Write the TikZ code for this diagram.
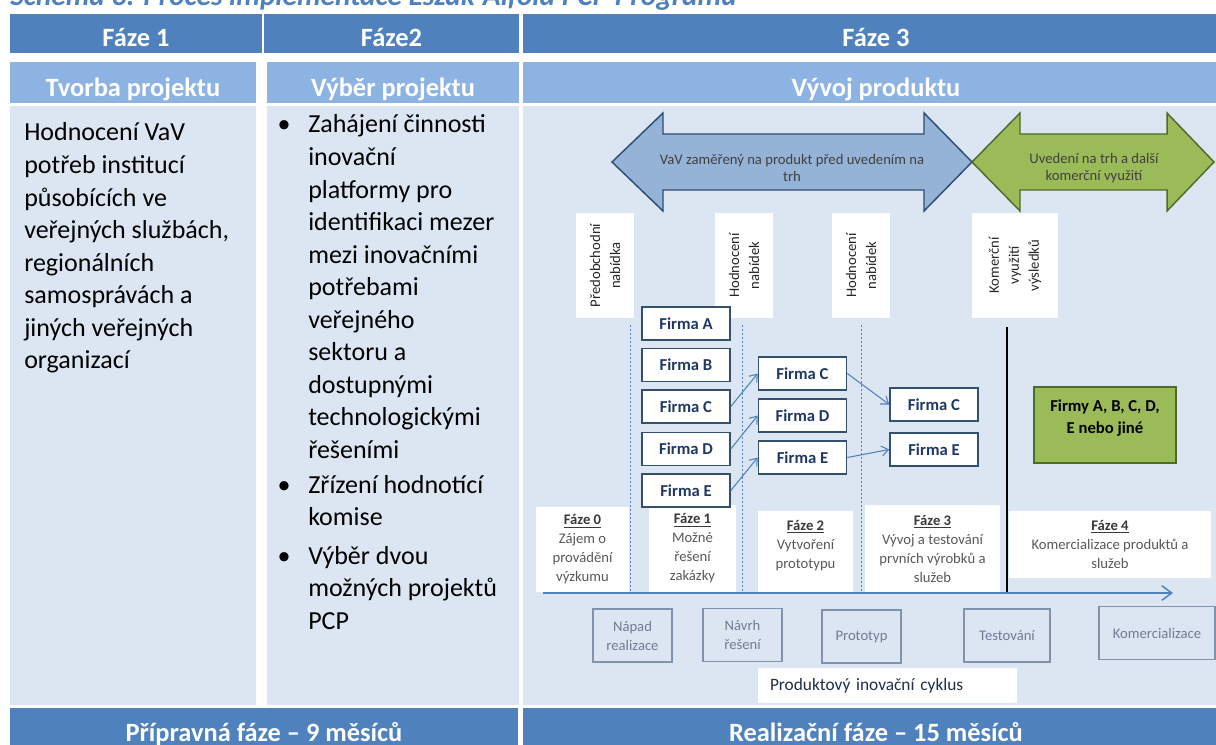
\documentclass[tikz,border=0pt]{standalone}
\usepackage{fontspec}
\setmainfont{Carlito}
\usetikzlibrary{arrows.meta}

\definecolor{headblue}{HTML}{4F81BD}
\definecolor{subblue}{HTML}{8DB3E2}
\definecolor{panel}{HTML}{DCE6F2}
\definecolor{arrowblue}{HTML}{95B3D7}
\definecolor{arrowedge}{HTML}{2C4D75}
\definecolor{arrowgreen}{HTML}{9BBB59}
\definecolor{greenedge}{HTML}{4E6B2A}
\definecolor{arrowtext}{HTML}{404040}
\definecolor{labeltext}{HTML}{262626}
\definecolor{navy}{HTML}{1F3864}
\definecolor{firmedge}{HTML}{34506F}
\definecolor{linkblue}{HTML}{4F81BD}
\definecolor{phasetext}{HTML}{595959}
\definecolor{phasehead}{HTML}{3A3A3A}
\definecolor{stageedge}{HTML}{8093AB}
\definecolor{stagetext}{HTML}{6D7D94}
\definecolor{cycletext}{HTML}{1F2F45}

\newcommand\phasehead[1]{\textcolor{phasehead}{\textbf{\underline{#1}}}}

\tikzset{
  headtext/.style={anchor=base, inner sep=0, text=white,
    font=\fontsize{19.8}{24}\selectfont\bfseries},
  bodytext/.style={anchor=base west, inner sep=0,
    font=\fontsize{19.5}{24.4}\selectfont},
  bulletmark/.style={anchor=base, inner sep=0,
    font=\fontsize{19.5}{24.4}\selectfont},
  bigarrow/.style={line width=1.1pt, line join=miter},
  arrowlabel/.style={align=center, inner sep=0, text=arrowtext,
    font=\fontsize{11}{12.75}\selectfont},
  vlabel/.style={fill=white, rotate=90, align=center, inner sep=0,
    minimum width=78.75pt, text=labeltext, font=\fontsize{11}{15}\selectfont},
  firmbox/.style={draw=firmedge, line width=1.2pt, fill=white,
    minimum width=66pt, minimum height=24.75pt, inner sep=0, text=navy,
    font=\fontsize{12.5}{15}\selectfont\bfseries},
  link/.style={draw=linkblue, line width=0.8pt,
    -{Straight Barb[length=5pt,width=7.5pt]}},
  sepline/.style={draw=linkblue, line width=0.5pt, dash pattern=on 1.5pt off 1.5pt},
  phasebox/.style={fill=white, inner sep=0, align=center, text=phasetext,
    font=\fontsize{11}{14.25}\selectfont},
  stagebox/.style={draw=stageedge, line width=1.1pt, fill=panel, inner sep=0,
    align=center, minimum height=39.75pt, text=stagetext,
    font=\fontsize{11}{14.25}\selectfont},
}

\begin{document}
\begin{tikzpicture}[x=0.75pt, y=-0.75pt]
\useasboundingbox (0,0) rectangle (1216,745);
\clip (0,0) rectangle (1216,745);

% caption above the table
\node[anchor=base west, inner sep=0, text=headblue,
      font=\fontsize{22}{26}\selectfont\bfseries\itshape] (caption) at (10,6)
  {Schéma 3: Proces implementace Észak-Alföld PCP Programu};

% table cells
\fill[headblue] (10,14) rectangle (262,53);
\fill[headblue] (264,14) rectangle (519,53);
\fill[headblue] (523,14) rectangle (1230,53);
\fill[subblue] (10,62) rectangle (256,103);
\fill[subblue] (267,62) rectangle (519,103);
\fill[subblue] (523,62) rectangle (1230,103);
\fill[panel] (10,106) rectangle (256,705);
\fill[panel] (267,106) rectangle (519,705);
\fill[panel] (523,106) rectangle (1230,705);
\fill[headblue] (10,708) rectangle (518,760);
\fill[headblue] (523,708) rectangle (1230,760);

\node[headtext] (ph1) at (136,47) {Fáze 1};
\node[headtext] (ph2) at (391.5,47) {Fáze2};
\node[headtext] (ph3) at (876,47) {Fáze 3};
\node[headtext] (sub1) at (133,97) {Tvorba projektu};
\node[headtext] (sub2) at (393,97) {Výběr projektu};
\node[headtext] (sub3) at (876,97) {Vývoj produktu};
\node[headtext] (prep) at (264,741) {Přípravná fáze – 9 měsíců};
\node[headtext] (real) at (876,741) {Realizační fáze – 15 měsíců};

% column 1
\node[bodytext] (needs) at (24,141) {\parbox[t]{230pt}{Hodnocení VaV\\potřeb institucí\\působících ve\\veřejných službách,\\regionálních\\samosprávách a\\jiných veřejných\\organizací}};

% column 2
\node[bulletmark] (bul1) at (284,133) {•};
\node[bodytext] (item1) at (308,133) {\parbox[t]{200pt}{Zahájení činnosti\\inovační\\platformy pro\\identifikaci mezer\\mezi inovačními\\potřebami\\veřejného\\sektoru a\\dostupnými\\technologickými\\řešeními}};
\node[bulletmark] (bul2) at (284,493) {•};
\node[bodytext] (item2) at (308,493) {\parbox[t]{200pt}{Zřízení hodnotící\\komise}};
\node[bulletmark] (bul3) at (284,564) {•};
\node[bodytext] (item3) at (308,564) {\parbox[t]{200pt}{Výběr dvou\\možných projektů\\PCP}};

% column 3: the two broad double arrows
\draw[bigarrow, fill=arrowblue, draw=arrowedge]
  (612,162) -- (663,113) -- (663,134) -- (924,134) -- (924,113) -- (972,162)
  -- (924,211) -- (924,190) -- (663,190) -- (663,211) -- cycle;
\draw[bigarrow, fill=arrowgreen, draw=greenedge]
  (972,162) -- (1020,113) -- (1020,134) -- (1167,134) -- (1167,113) -- (1214,162)
  -- (1167,211) -- (1167,190) -- (1020,190) -- (1020,211) -- cycle;
\node[arrowlabel] (rdlabel) at (792,168) {VaV zaměřený na produkt před uvedením na\\trh};
\node[arrowlabel] (mktlabel) at (1094,168) {Uvedení na trh a další\\komerční využití};

% milestone labels
\node[vlabel, minimum height=43.5pt] (pre) at (605,265.5) {Předobchodní\\nabídka};
\node[vlabel, minimum height=43.5pt] (eval1) at (744,265.5) {Hodnocení\\nabídek};
\node[vlabel, minimum height=43.5pt] (eval2) at (861,265.5) {Hodnocení\\nabídek};
\node[vlabel, minimum height=64.5pt] (comm) at (1015,265.5) {Komerční\\využití\\výsledků};

% dashed separators
\coordinate (sepA1) at (630,325); \coordinate (sepA2) at (630,592);
\coordinate (sepB1) at (742,325); \coordinate (sepB2) at (742,592);
\coordinate (sepC1) at (861,325); \coordinate (sepC2) at (861,592);
\draw[sepline] (sepA1) -- (sepA2);
\draw[sepline] (sepB1) -- (sepB2);
\draw[sepline] (sepC1) -- (sepC2);

% phase boxes
\node[phasebox, minimum width=69.75pt, minimum height=63.75pt] (fz0) at (582.5,549.5)
  {\phasehead{Fáze 0}\\Zájem o\\provádění\\výzkumu};
\node[phasebox, minimum width=65.25pt, minimum height=65.25pt] (fz1) at (692.5,548.5)
  {\phasehead{Fáze 1}\\Možné\\řešení\\zakázky};
\node[phasebox, minimum width=71.25pt, minimum height=60.75pt] (fz2) at (805.5,551.5) {};
\node[phasebox, fill=none] (fz2t) at (805.5,545.5)
  {\phasehead{Fáze 2}\\Vytvoření\\prototypu};
\node[phasebox, minimum width=101.25pt, minimum height=65.25pt] (fz3) at (932.5,548.5)
  {\phasehead{Fáze 3}\\Vývoj a testování\\prvních výrobků a\\služeb};
\node[phasebox, minimum width=151.5pt, minimum height=50.25pt] (fz4) at (1110,544.5)
  {\phasehead{Fáze 4}\\Komercializace produktů a\\služeb};

% firms in each round
\node[firmbox] (a1) at (686,323.5) {Firma A};
\node[firmbox] (b1) at (686,365) {Firma B};
\node[firmbox] (c1) at (686,406.5) {Firma C};
\node[firmbox] (d1) at (686,449) {Firma D};
\node[firmbox] (e1) at (686,490.5) {Firma E};
\node[firmbox] (c2) at (802.5,373.5) {Firma C};
\node[firmbox] (d2) at (802.5,415.5) {Firma D};
\node[firmbox] (e2) at (802.5,457.5) {Firma E};
\node[firmbox] (c3) at (934,404.5) {Firma C};
\node[firmbox] (e3) at (934,449.5) {Firma E};

\draw[link] (c1.east) -- (c2.west);
\draw[link] (d1.east) -- (d2.west);
\draw[link] (e1.east) -- (e2.west);
\draw[link] (c2.east) -- (c3.west);
\draw[link] (e2.east) -- (e3.west);

\node[draw=greenedge, line width=1.3pt, fill=arrowgreen, minimum width=106.5pt,
      minimum height=57pt, inner sep=0] (winners) at (1105,425) {};
\node[align=center, inner sep=0, font=\fontsize{12.5}{16.5}\selectfont\bfseries]
  (winnerstext) at (1105,418) {Firmy A, B, C, D,\\E nebo jiné};

% boundary between development and commercialisation
\coordinate (cutT) at (1007,327);
\coordinate (cutB) at (1007,594);
\draw[line width=1.5pt, black] (cutT) -- (cutB);

% time axis
\coordinate (axisL) at (543,593);
\coordinate (axisR) at (1173,593);
\draw[draw=linkblue, line width=1.1pt, -{Straight Barb[length=7.5pt,width=11pt]}] (axisL) -- (axisR);

% innovation cycle stages
\node[stagebox, minimum width=59.25pt] (idea) at (632.5,635.5) {Nápad\\realizace};
\node[stagebox, minimum width=59.25pt] (design) at (742.5,635) {Návrh\\řešení};
\node[stagebox, minimum width=59.25pt] (proto) at (861.5,636.5) {Prototyp};
\node[stagebox, minimum width=64.5pt] (test) at (1007,635.5) {Testování};
\node[stagebox, minimum width=87pt] (market) at (1157,633) {Komercializace};

\node[fill=white, minimum width=194.25pt, minimum height=26.25pt, inner xsep=9pt,
      text width=176.25pt, align=left, text=cycletext,
      font=\fontsize{13}{15}\selectfont] (cycle) at (887.5,685.5) {Produktový inovační cyklus};
\end{tikzpicture}
\end{document}
